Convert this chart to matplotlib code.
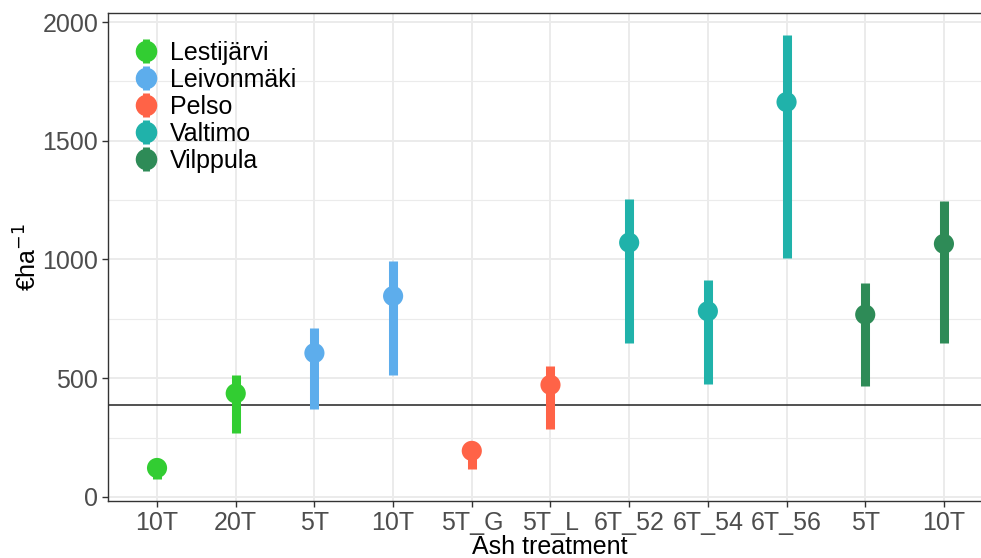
import matplotlib
matplotlib.use("Agg")
import matplotlib.pyplot as plt
from matplotlib.lines import Line2D
from matplotlib.legend_handler import HandlerTuple
import numpy as np

plt.rcParams['font.family'] = ['Liberation Sans', 'DejaVu Sans']

treatments = ["10T", "20T", "5T", "10T", "5T_G", "5T_L", "6T_52", "6T_54", "6T_56", "5T", "10T"]
sites = ["Lestijärvi", "Lestijärvi", "Leivonmäki", "Leivonmäki", "Pelso", "Pelso",
         "Valtimo", "Valtimo", "Valtimo", "Vilppula", "Vilppula"]
means = [122, 436, 606, 846, 194, 472, 1071, 782, 1663, 768, 1066]
lows = [76, 269, 371, 514, 118, 286, 648, 476, 1006, 467, 648]
highs = [150, 513, 712, 994, 220, 552, 1255, 914, 1945, 901, 1246]
hline_value = 388

site_order = ["Lestijärvi", "Leivonmäki", "Pelso", "Valtimo", "Vilppula"]
site_colors = {"Lestijärvi": "#32CD32", "Leivonmäki": "#5DADEC", "Pelso": "#FF6347",
               "Valtimo": "#20B2AA", "Vilppula": "#2E8B57"}

fig = plt.figure(figsize=(9.81, 5.58), dpi=100)
ax = fig.add_axes([0.1101, 0.1022, 0.900, 0.8745])

x = np.arange(1, len(treatments) + 1)
cols = [site_colors[s] for s in sites]

ax.vlines(x, lows, highs, colors=cols, linewidth=6.5, capstyle='butt', zorder=3)
ax.scatter(x, means, s=14.5**2, c=cols, zorder=4, linewidths=0)
ax.axhline(hline_value, color="#333333", linewidth=1.2, zorder=2)

ax.set_xlim(0.377, 11.597)
ax.set_ylim(-17, 2038)
ax.set_xticks(x)
ax.set_xticklabels(treatments)
ax.set_yticks([0, 500, 1000, 1500, 2000])
ax.set_yticks([250, 750, 1250, 1750], minor=True)

ax.grid(True, which='major', color='#EBEBEB', linewidth=1.4, zorder=0)
ax.grid(True, which='minor', axis='y', color='#EBEBEB', linewidth=0.8, zorder=0)
ax.set_axisbelow(True)

ax.tick_params(axis='both', which='major', labelsize=18, labelcolor='#4D4D4D',
               color='#333333', length=4, width=1, pad=3)
ax.tick_params(axis='y', which='minor', length=0)
for sp in ['left', 'bottom', 'top', 'right']:
    ax.spines[sp].set_color('#333333')
    ax.spines[sp].set_linewidth(1.0)

ax.set_xlabel("Ash treatment", fontsize=18, color='black', labelpad=0)
ax.set_ylabel("€ha$^{-1}$", fontsize=18, color='black', labelpad=0.5)

handles = []
for s in site_order:
    bar = Line2D([], [], color=site_colors[s], marker='|', markersize=17, markeredgewidth=5, linestyle='None')
    dot = Line2D([], [], color=site_colors[s], marker='o', markersize=14.5, linestyle='None')
    handles.append((bar, dot))
leg = ax.legend(handles, site_order, handler_map={tuple: HandlerTuple(ndivide=1, pad=0)},
                loc='upper left', bbox_to_anchor=(0.029, 0.943), frameon=False,
                fontsize=18, handlelength=1.0, handletextpad=0.45, labelspacing=0.12,
                borderaxespad=0, borderpad=0)

fig.savefig("out.png", dpi=100)
